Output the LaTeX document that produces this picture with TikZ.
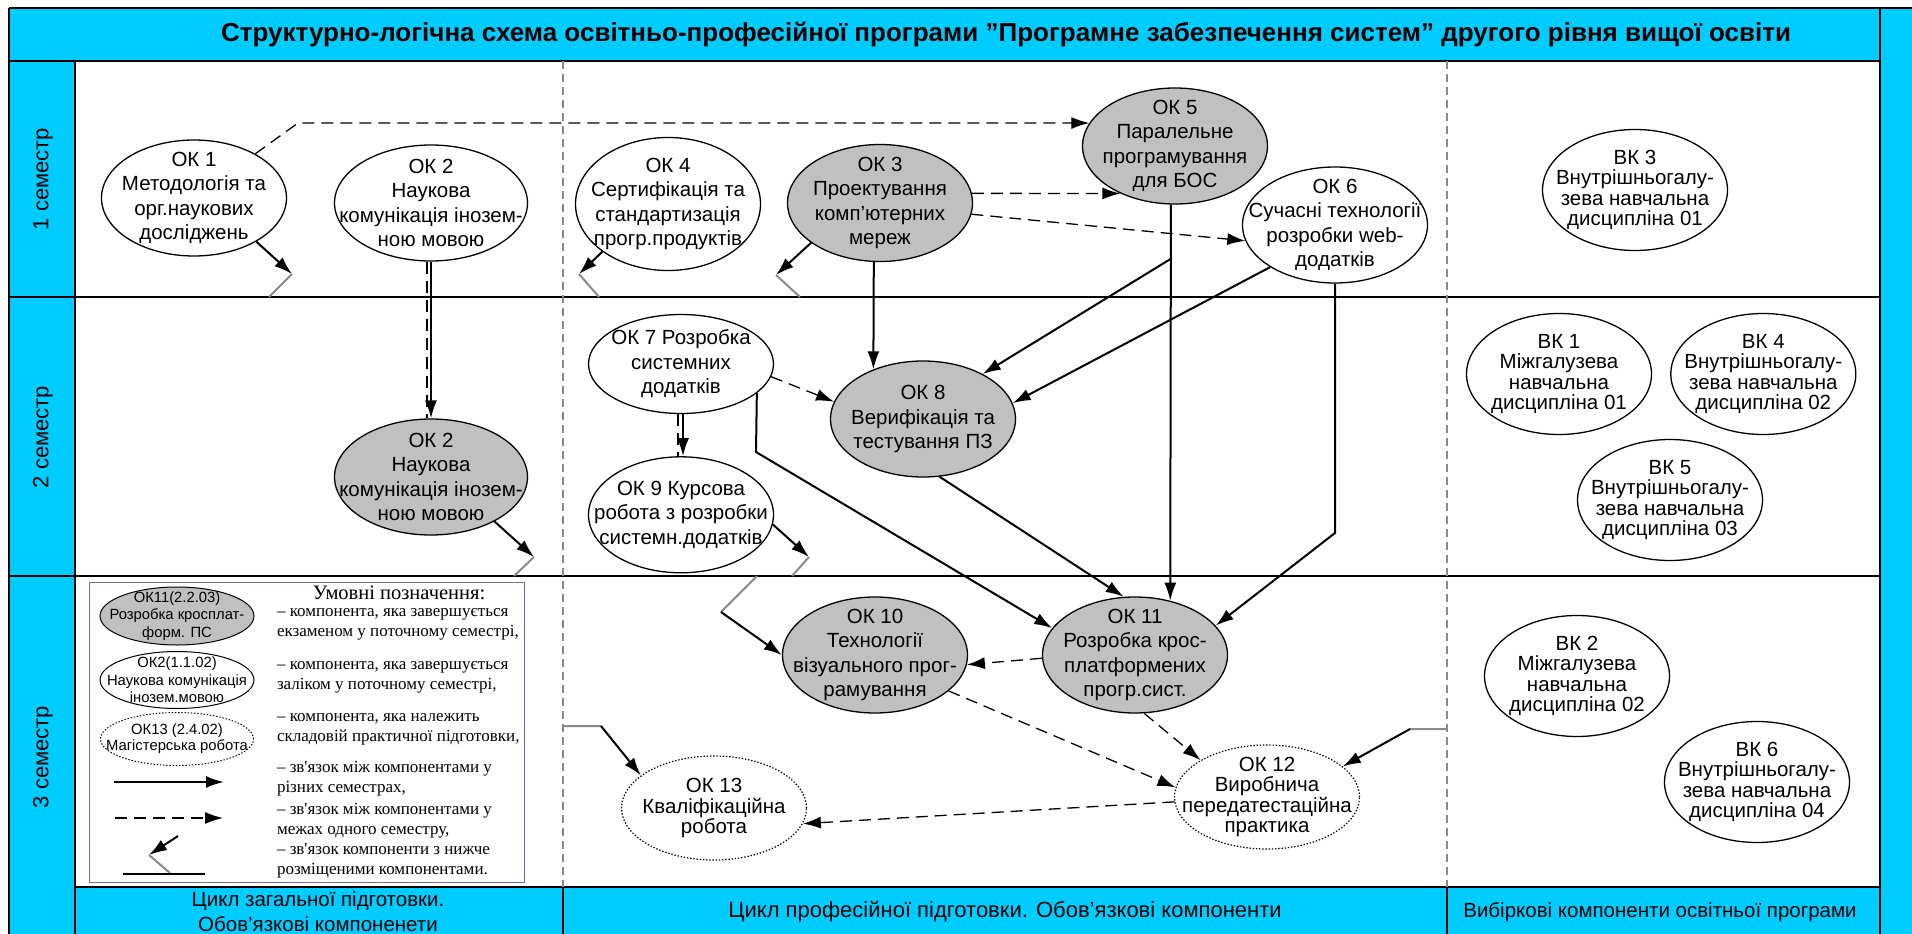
\documentclass[tikz,border=0pt]{standalone}
\usepackage{fontspec}
\setmainfont{Liberation Sans}
\newfontfamily\legendfont{Liberation Serif}
\usepackage{tikz}
\usetikzlibrary{arrows.meta,shapes,positioning}
\definecolor{band}{RGB}{0,204,255}
\definecolor{examgray}{RGB}{192,192,192}
\definecolor{linkgray}{RGB}{138,138,138}
\definecolor{legendframe}{RGB}{112,112,160}
\tikzset{
  every picture/.style = {
    line width = 2pt,
    >={Latex[length=18pt,width=12pt]},
    node distance = 18pt and 18pt,
  }
  ,
  frame/.style = {
    draw = black,
    line width = 2pt
  }
  ,
  % components
  comp/.style = {
    ellipse,
    draw,
    line width = 1.3pt,
    minimum width = 185pt,
    minimum height = 116pt,
    inner sep = -50pt,
    align = center,
    font = \fontsize{20.5}{24.5}\selectfont
  }
  ,
  credit/.style = {comp, fill=white}
  ,
  exam/.style = {comp, fill=examgray}
  ,
  elective/.style = {
    comp,
    minimum height = 121pt,
    font = \fontsize{20.5}{20.5}\selectfont
  }
  ,
  practice/.style = {
    comp,
    line width = 1.2pt,
    dash pattern = on 1.4pt off 1.8pt,
    minimum height = 104pt,
    font = \fontsize{20.5}{20.5}\selectfont
  }
  , % links
  next/.style = {->, line width=2pt}
  ,
  same/.style = {->, line width=1.3pt, dash pattern=on 12pt off 7pt}
  ,
  down/.style = {-, draw=linkgray, line width=2pt}
  ,
  column-sep/.style = {draw=linkgray, line width=1.2pt, dash pattern=on 8pt off 5pt}
  ,
  label-sem/.style = {rotate=90, font=\fontsize{22}{26}\selectfont}
  ,
  label-band/.style = {align=center, font=\fontsize{20.5}{25}\selectfont}
  ,
  label-legend/.style = {anchor=west, align=left, inner sep=0,
    font=\legendfont\fontsize{17}{20}\selectfont}
  ,
  label-sample/.style = {line width=1pt, font=\fontsize{14.8}{17.5}\selectfont}
}

\begin{document}
\begin{tikzpicture}[x=1pt,y=-1pt]
  \useasboundingbox (0,0) rectangle (1912,934);

  % bands
  \fill[band] (9,8) rectangle (1880,61);
  \fill[band] (9,61) rectangle (75,934);
  \fill[band] (75,887) rectangle (1880,934);
  \fill[band] (1880,8) rectangle (1912,934);

  \draw[frame] (9,8) -- (1912,8)
               (9,8) -- (9,934)
               (75,61) -- (75,934)
               (1880,8) -- (1880,934)
               (9,61) -- (1880,61)
               (9,297) -- (1880,297)
               (9,576) -- (1880,576)
               (75,887) -- (1880,887);
  \draw[line width=1.5pt] (563,887) -- (563,934) (1447,887) -- (1447,934);
  \path[column-sep] (563,61) -- (563,887) (1447,61) -- (1447,887);

  \node[font=\fontsize{26}{30}\selectfont\bfseries] (title) at (1006,35)
    {Структурно-логічна схема освітньо-професійної програми ”Програмне забезпечення систем” другого рівня вищої освіти};
  \node[label-sem] (s1) at (43,179) {1 семестр};
  \node[label-sem] (s2) at (43,437) {2 семестр};
  \node[label-sem] (s3) at (43,757) {3 семестр};
  \node[label-band] (c1) at (318,912) {Цикл загальної підготовки.\\Обов’язкові компоненети};
  \node[label-band, font=\fontsize{22}{25}\selectfont] (c2) at (1005,912) {Цикл професійної підготовки. Обов’язкові компоненти};
  \node[label-band] (c3) at (1660,912) {Вибіркові компоненти освітньої програми};

  % 1 semester
  \node[credit] (ok1) at (194,198) {ОК 1\\Методологія та\\орг.наукових\\досліджень};
  \node[credit, minimum width=193pt] (ok2) at (431,203) {ОК 2\\Наукова\\комунікація інозем-\\ною мовою};
  \node[credit, minimum height=133pt] (ok4) at (668,204) {ОК 4\\Сертифікація та\\стандартизація\\прогр.продуктів};
  \node[exam, minimum height=117pt] (ok3) at (880,203) {ОК 3\\Проектування\\комп’ютерних\\мереж};
  \node[exam] (ok5) at (1175,146) {ОК 5\\Паралельне\\програмування\\для БОС};
  \node[credit] (ok6) at (1335,225) {ОК 6\\Сучасні технології\\розробки web-\\додатків};
  \node[elective] (vk3) at (1635,190) {ВК 3\\Внутрішньогалу-\\зева навчальна\\дисципліна 01};

  % 2 semester
  \node[exam, minimum width=193pt] (ok2b) at (431,477) {ОК 2\\Наукова\\комунікація інозем-\\ною мовою};
  \node[credit, minimum height=99pt] (ok7) at (681,364) {ОК 7 Розробка\\системних\\додатків};
  \node[credit, below = 42pt of ok7] (ok9) {ОК 9 Курсова\\робота з розробки\\системн.додатків};
  \node[exam] (ok8) at (923,419) {ОК 8\\Верифікація та\\тестування ПЗ};
  \node[elective] (vk1) at (1559,374) {ВК 1\\Міжгалузева\\навчальна\\дисципліна 01};
  \node[elective, right = 18pt of vk1] (vk4) {ВК 4\\Внутрішньогалу-\\зева навчальна\\дисципліна 02};
  \node[elective] (vk5) at (1670,500) {ВК 5\\Внутрішньогалу-\\зева навчальна\\дисципліна 03};

  % 3 semester
  \node[exam] (ok10) at (875,655) {ОК 10\\Технології\\візуального прог-\\рамування};
  \node[exam] (ok11) at (1135,655) {ОК 11\\Розробка крос-\\платформених\\прогр.сист.};
  \node[practice] (ok12) at (1267,797) {ОК 12\\Виробнича\\передатестаційна\\практика};
  \node[practice] (ok13) at (714,808) {ОК 13\\Кваліфікаційна\\робота};
  \node[elective] (vk2) at (1577,676) {ВК 2\\Міжгалузева\\навчальна\\дисципліна 02};
  \node[elective] (vk6) at (1757,782) {ВК 6\\Внутрішньогалу-\\зева навчальна\\дисципліна 04};

  % bend points and free ends
  \coordinate (k15) at (298,123);
  \coordinate (j5) at (1170.5,259);
  \coordinate (k6) at (1335,533);
  \coordinate (k7) at (756,452);
  \coordinate (d1) at (292,274);  \coordinate (e1) at (269,297);
  \coordinate (d4) at (579,274);  \coordinate (e4) at (599,297);
  \coordinate (d3) at (776,275);  \coordinate (e3) at (800,297);
  \coordinate (d2) at (534,557);  \coordinate (e2) at (514,576);
  \coordinate (d9) at (809,557);  \coordinate (e9) at (792,576);
  \coordinate (u10) at (757,576); \coordinate (v10) at (721,612);
  \coordinate (u13) at (563,726); \coordinate (v13) at (601,726);
  \coordinate (u12) at (1447,729); \coordinate (v12) at (1410,729);

  % links inside one semester
  \draw[same] (ok1) -- (k15) -- (ok5.165);
  \path (ok3.6) edge[same] (ok5.221)
        (ok3.-7) edge[same] (ok6.190)
        (ok7.-8) edge[same] (ok8.169)
        (ok11.182) edge[same] (ok10.-6)
        (ok10.-26) edge[same] (ok12.174)
        (ok11.-81) edge[same] (ok12.151)
        (ok12.183) edge[same] (ok13.-10);
  \draw[same,-] ([xshift=-4pt]ok2.south) -- ([xshift=-4pt]ok2b.north);
  \draw[same,-] ([xshift=-3pt]ok7.south) -- ([xshift=-3pt]ok9.north);

  % links between semesters
  \path (ok2) edge[next] (ok2b)
        ([xshift=2pt]ok7.south) edge[next] ([xshift=2pt]ok9.north)
        (ok3.-96) edge[next] (ok8.135)
        (ok5.-94) edge[next] (ok11.57)
        (j5) edge[next] (ok8.37)
        (ok6.213) edge[next] (ok8.10)
        (ok8.-74) edge[next] (ok11.101);
  \draw[next] (ok6.-90) -- (k6) -- (ok11.20);
  \draw[next] (ok7.-21) -- (k7) -- (ok11.162);

  % links with components placed lower
  \path (ok1.-35) edge[next] (d1)
        (ok4.216) edge[next] (d4)
        (ok3.210) edge[next] (d3)
        (ok2b.-35) edge[next] (d2)
        (ok9.-6) edge[next] (d9);
  \draw[down] (d1) -- (e1) (d4) -- (e4) (d3) -- (e3) (d2) -- (e2) (d9) -- (e9)
              (u10) -- (v10) (u13) -- (v13) (u12) -- (v12);
  \path (v10) edge[next] (ok10.180)
        (v13) edge[next] (ok13.156)
        (v12) edge[next] (ok12.22);

  % legend
  \draw[draw=legendframe, line width=1pt] (89,582) rectangle (524,882);
  \node[font=\legendfont\fontsize{20.5}{24}\selectfont] (lgh) at (399,593) {Умовні позначення:};
  \node[exam, label-sample, minimum width=154pt, minimum height=58pt] (lg1) at (177,616)
    {ОК11(2.2.03)\\Розробка кросплат-\\форм. ПС};
  \node[credit, label-sample, minimum width=154pt, minimum height=57pt] (lg2) at (177,680)
    {ОК2(1.1.02)\\Наукова комунікація\\інозем.мовою};
  \node[practice, label-sample, minimum width=153pt, minimum height=53pt,
        font=\fontsize{14.8}{16}\selectfont] (lg3) at (177,739) {ОК13 (2.4.02)\\Магістерська робота};
  \coordinate (la1) at (114,782); \coordinate (la2) at (224,782);
  \coordinate (lb1) at (115,818); \coordinate (lb2) at (223,818);
  \coordinate (lc1) at (178,836); \coordinate (lc2) at (149,855);
  \coordinate (lc3) at (170,873); \coordinate (lc4) at (123,874); \coordinate (lc5) at (205,874);
  \path (la1) edge[next] (la2)
        (lb1) edge[same] (lb2)
        (lc1) edge[next] (lc2);
  \draw[down] (lc2) -- (lc3);
  \draw[line width=1.3pt] (lc4) -- (lc5);
  \node[label-legend] (lt1) at (276,624) {– компонента, яка завершується\\екзаменом у поточному семестрі,};
  \node[label-legend] (lt2) at (276,677) {– компонента, яка завершується\\заліком у поточному семестрі,};
  \node[label-legend] (lt3) at (276,729) {– компонента, яка належить\\складовій практичної підготовки,};
  \node[label-legend] (lt4) at (276,779) {– зв\textquotesingle язок між компонентами у\\різних семестрах,};
  \node[label-legend] (lt5) at (276,821) {– зв\textquotesingle язок між компонентами у\\межах одного семестру,};
  \node[label-legend] (lt6) at (276,861) {– зв\textquotesingle язок компоненти з нижче\\розміщеними компонентами.};
\end{tikzpicture}
\end{document}
